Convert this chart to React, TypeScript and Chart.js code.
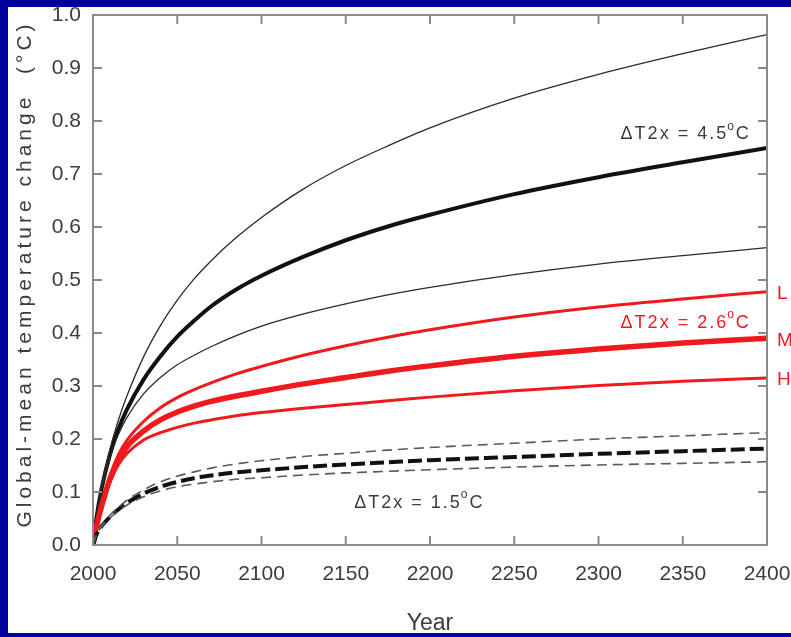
import React, { useEffect, useRef } from 'react';
import { Chart, registerables } from 'chart.js';
Chart.register(...registerables);

// ---- data ----
const years = [2000, 2002, 2005, 2010, 2015, 2020, 2030, 2040, 2050, 2060, 2070, 2085, 2100, 2125, 2150, 2175, 2200, 2250, 2300, 2350, 2400];
const high45Upper = [0, 0.05, 0.11, 0.18, 0.235, 0.28, 0.355, 0.414, 0.462, 0.502, 0.536, 0.58, 0.618, 0.672, 0.716, 0.753, 0.787, 0.843, 0.888, 0.927, 0.963];
const high45Central = [0, 0.05, 0.105, 0.17, 0.218, 0.255, 0.312, 0.356, 0.393, 0.423, 0.45, 0.482, 0.508, 0.544, 0.575, 0.601, 0.623, 0.662, 0.694, 0.722, 0.749];
const high45Lower = [0, 0.05, 0.103, 0.166, 0.208, 0.24, 0.285, 0.316, 0.34, 0.358, 0.374, 0.395, 0.413, 0.436, 0.455, 0.472, 0.486, 0.51, 0.53, 0.546, 0.561];
const mid26L = [0, 0.035, 0.075, 0.13, 0.17, 0.197, 0.233, 0.259, 0.278, 0.293, 0.306, 0.323, 0.337, 0.358, 0.376, 0.392, 0.406, 0.43, 0.449, 0.464, 0.478];
const mid26M = [0, 0.034, 0.072, 0.124, 0.16, 0.185, 0.215, 0.236, 0.251, 0.262, 0.271, 0.281, 0.29, 0.304, 0.316, 0.328, 0.338, 0.356, 0.37, 0.381, 0.39];
const mid26H = [0, 0.033, 0.069, 0.118, 0.151, 0.172, 0.198, 0.212, 0.222, 0.23, 0.236, 0.244, 0.25, 0.258, 0.265, 0.272, 0.279, 0.291, 0.301, 0.309, 0.315];
const low15Upper = [0, 0.02, 0.037, 0.056, 0.071, 0.084, 0.104, 0.119, 0.13, 0.138, 0.145, 0.153, 0.159, 0.167, 0.173, 0.179, 0.184, 0.192, 0.2, 0.206, 0.212];
const low15Central = [0, 0.019, 0.035, 0.053, 0.067, 0.079, 0.097, 0.11, 0.119, 0.126, 0.131, 0.137, 0.141, 0.147, 0.152, 0.156, 0.16, 0.166, 0.172, 0.177, 0.182];
const low15Lower = [0, 0.019, 0.034, 0.051, 0.064, 0.075, 0.091, 0.102, 0.11, 0.115, 0.119, 0.124, 0.127, 0.132, 0.136, 0.139, 0.142, 0.147, 0.151, 0.154, 0.157];

const xTickStep = 50;
const yTickStep = 0.1;
const xTitle = 'Year';
const yTitle = 'Global-mean temperature change  (°C)';

const sensLabels = ['ΔT2x = 4.5', 'ΔT2x = 2.6', 'ΔT2x = 1.5'];
const sensLabelYears = [2391, 2391, 2155];
const sensLabelValues = [0.775, 0.419, 0.08];
const endLabels = ['L', 'M', 'H'];

const FONT = '"Liberation Sans", Arial, Helvetica, sans-serif';
const BLUE = '#00009c';
const RED = '#f0191e';
const TEXT = '#3c3c3c';

const pts = (vals: number[]) => vals.map((v, i) => ({ x: years[i], y: v }));

function setSpacing(ctx: any, px: number) {
  if ('letterSpacing' in ctx) ctx.letterSpacing = `${px}px`;
}

function drawDegLabel(ctx: CanvasRenderingContext2D, main: string, x: number, y: number, align: 'left' | 'right', color: string) {
  const big = `18px ${FONT}`;
  const small = `12px ${FONT}`;
  setSpacing(ctx, 2);
  ctx.font = big;
  const wMain = ctx.measureText(main).width;
  const wC = ctx.measureText('C').width;
  ctx.font = small;
  const wSup = ctx.measureText('o').width;
  const total = wMain + wSup + wC;
  const x0 = align === 'right' ? x - total : x;
  ctx.fillStyle = color;
  ctx.textAlign = 'left';
  ctx.textBaseline = 'middle';
  ctx.font = big;
  ctx.fillText(main, x0, y);
  ctx.font = small;
  ctx.fillText('o', x0 + wMain - 1, y - 8);
  ctx.font = big;
  ctx.fillText('C', x0 + wMain + wSup - 1, y);
  setSpacing(ctx, 0);
}

const framePlugin = {
  id: 'frameDecor',
  beforeDraw(chart: any) {
    const { ctx, width, height } = chart;
    ctx.save();
    ctx.fillStyle = BLUE;
    ctx.fillRect(0, 0, width, height);
    ctx.fillStyle = '#ffffff';
    ctx.fillRect(8, 7, width - 8, height - 11);
    ctx.restore();
  },
  afterDatasetsDraw(chart: any) {
    const { ctx, chartArea: a, scales } = chart;
    const xs = scales.x;
    const ys = scales.y;
    ctx.save();
    ctx.strokeStyle = '#8a8a8a';
    ctx.lineWidth = 2;
    ctx.strokeRect(a.left, a.top, a.right - a.left, a.bottom - a.top);
    const tl = 9;
    ctx.beginPath();
    xs.ticks.forEach((t: any) => {
      const px = xs.getPixelForValue(t.value);
      if (px <= a.left + 1 || px >= a.right - 1) return;
      ctx.moveTo(px, a.bottom);
      ctx.lineTo(px, a.bottom - tl);
      ctx.moveTo(px, a.top);
      ctx.lineTo(px, a.top + tl);
    });
    ys.ticks.forEach((t: any) => {
      const py = ys.getPixelForValue(t.value);
      if (py <= a.top + 1 || py >= a.bottom - 1) return;
      ctx.moveTo(a.left, py);
      ctx.lineTo(a.left + tl, py);
      ctx.moveTo(a.right, py);
      ctx.lineTo(a.right - tl, py);
    });
    ctx.stroke();

    // y axis title (letter-spaced like the original)
    ctx.save();
    ctx.translate(25, (a.top + a.bottom) / 2 - 6);
    ctx.rotate(-Math.PI / 2);
    ctx.font = `21px ${FONT}`;
    setSpacing(ctx, 4);
    ctx.fillStyle = TEXT;
    ctx.textAlign = 'center';
    ctx.textBaseline = 'middle';
    ctx.fillText(yTitle, 0, 0);
    setSpacing(ctx, 0);
    ctx.restore();

    // sensitivity labels
    const colors = [TEXT, RED, TEXT];
    const aligns: ('left' | 'right')[] = ['right', 'right', 'left'];
    sensLabels.forEach((txt, i) => {
      drawDegLabel(ctx, txt, xs.getPixelForValue(sensLabelYears[i]), ys.getPixelForValue(sensLabelValues[i]), aligns[i], colors[i]);
    });
    // L / M / H labels at the end of the red curves
    const ends = [mid26L, mid26M, mid26H];
    ctx.fillStyle = RED;
    ctx.font = `19px ${FONT}`;
    ctx.textAlign = 'left';
    ctx.textBaseline = 'middle';
    endLabels.forEach((l, i) => {
      const v = ends[i][ends[i].length - 1];
      ctx.fillText(l, a.right + 10, ys.getPixelForValue(v) + 2);
    });
    ctx.restore();
  },
  afterDraw(chart: any) {
    const { ctx, width, height } = chart;
    ctx.save();
    ctx.fillStyle = BLUE;
    ctx.fillRect(0, height - 4, width, 4);
    ctx.fillRect(0, 0, 8, height);
    ctx.restore();
  },
};

export default function App() {
  const ref = useRef<HTMLCanvasElement | null>(null);
  useEffect(() => {
    document.body.style.margin = '0';
    const canvas = ref.current!;
    const thin = { borderWidth: 1.3, borderColor: '#2a2a2a' };
    const chart = new Chart(canvas, {
      type: 'line',
      data: {
        datasets: [
          { label: '1.5 lower', data: pts(low15Lower), borderColor: '#5a5a5a', borderWidth: 1.6, borderDash: [10, 6] },
          { label: '1.5 upper', data: pts(low15Upper), borderColor: '#5a5a5a', borderWidth: 1.6, borderDash: [10, 6] },
          { label: '1.5 central', data: pts(low15Central), borderColor: '#111111', borderWidth: 4, borderDash: [14, 5] },
          { label: '2.6 H', data: pts(mid26H), borderColor: RED, borderWidth: 3 },
          { label: '2.6 L', data: pts(mid26L), borderColor: RED, borderWidth: 3 },
          { label: '2.6 M', data: pts(mid26M), borderColor: RED, borderWidth: 5.5 },
          { label: '4.5 lower', data: pts(high45Lower), ...thin },
          { label: '4.5 upper', data: pts(high45Upper), ...thin },
          { label: '4.5 central', data: pts(high45Central), borderColor: '#111111', borderWidth: 4 },
        ].map((d) => ({ ...d, pointRadius: 0, fill: false, cubicInterpolationMode: 'monotone' as const })),
      },
      options: {
        animation: false,
        responsive: false,
        devicePixelRatio: 1,
        layout: { padding: { left: 8, top: 15, right: 24, bottom: 0 } },
        plugins: { legend: { display: false }, tooltip: { enabled: false } },
        scales: {
          x: {
            type: 'linear',
            min: 2000,
            max: 2400,
            grid: { display: false, drawTicks: true, tickLength: 17 },
            border: { display: false },
            ticks: {
              stepSize: xTickStep,
              padding: 0,
              color: TEXT,
              font: { family: FONT, size: 21 },
              callback: (v: any) => String(v),
              maxRotation: 0,
            },
            title: { display: true, text: xTitle, color: TEXT, font: { family: FONT, size: 23 }, padding: { top: 0, bottom: 0 } },
            afterFit: (s: any) => { s.height = 92; },
          },
          y: {
            min: 0,
            max: 1,
            grid: { display: false, drawTicks: true, tickLength: 12 },
            border: { display: false },
            ticks: {
              stepSize: yTickStep,
              padding: 0,
              color: TEXT,
              font: { family: FONT, size: 21 },
              callback: (v: any) => Number(v).toFixed(1),
            },
            title: { display: false, text: yTitle },
            afterFit: (s: any) => { s.width = 85; },
          },
        },
      },
      plugins: [framePlugin],
    });
    return () => chart.destroy();
  }, []);
  return (
    <div style={{ position: 'absolute', left: 0, top: 0, width: 791, height: 637 }}>
      <canvas ref={ref} width={791} height={637} style={{ display: 'block', width: 791, height: 637 }} />
    </div>
  );
}
